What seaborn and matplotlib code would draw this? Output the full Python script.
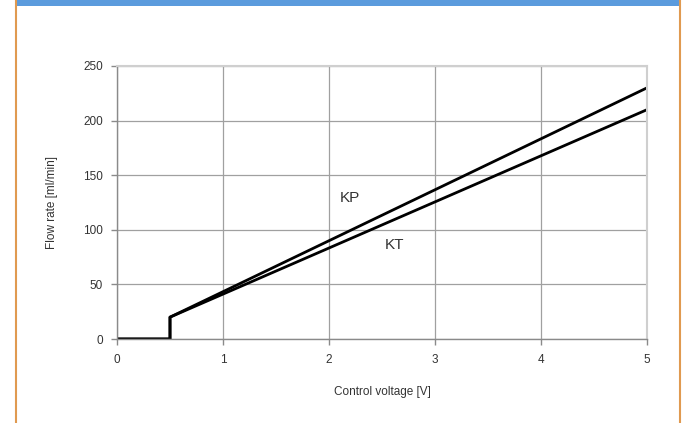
# Flow rate vs control voltage for the KP and KT pumps
import pandas as pd
import matplotlib
matplotlib.use('Agg')
import matplotlib.pyplot as plt
import seaborn as sns
from matplotlib.patches import Rectangle
from matplotlib.lines import Line2D

# data
voltage = [0, 0.5, 0.5, 5]
flow_kp = [0, 0, 20, 230]
flow_kt = [0, 0, 20, 210]
x_ticks = [0, 1, 2, 3, 4, 5]
y_ticks = [0, 50, 100, 150, 200, 250]

df = pd.concat([
    pd.DataFrame({'voltage': voltage, 'flow': flow_kp, 'pump': 'KP'}),
    pd.DataFrame({'voltage': voltage, 'flow': flow_kt, 'pump': 'KT'}),
])

sns.set_style('white')
plt.rcParams['font.family'] = ['Liberation Sans', 'DejaVu Sans']

fig = plt.figure(figsize=(6.83, 4.23), dpi=100)
ax = fig.add_axes([117 / 683, 84 / 423, 530 / 683, 273 / 423])

sns.lineplot(data=df, x='voltage', y='flow', units='pump', estimator=None,
             sort=False, color='black', linewidth=2, ax=ax)

ax.set_xlim(0, 5)
ax.set_ylim(0, 250)
ax.set_xticks(x_ticks)
ax.set_yticks(y_ticks)
ax.grid(True, color='#a0a0a0', linewidth=0.9)
ax.set_axisbelow(True)
for side in ['left', 'bottom']:
    ax.spines[side].set_color('#8a8a8a')
    ax.spines[side].set_linewidth(1)
for side in ['top', 'right']:
    ax.spines[side].set_color('#cfcfcf')
    ax.spines[side].set_linewidth(1.5)
ax.tick_params(axis='both', which='both', length=4, width=1, color='#8a8a8a',
               labelsize=8.5, labelcolor='#333333', direction='out',
               left=True, bottom=True)
ax.tick_params(axis='x', pad=7)
ax.tick_params(axis='y', pad=6)

ax.set_xlabel('Control voltage [V]', fontsize=8.5, color='#333333', labelpad=14)
ax.set_ylabel('Flow rate [ml/min]', fontsize=8.5, color='#333333', labelpad=18)

ax.text(2.2, 129, 'KP', fontsize=11, color='#333333', ha='center', va='center')
ax.text(2.62, 86, 'KT', fontsize=11, color='#333333', ha='center', va='center')

# page frame: blue header strip and orange side borders
fig.add_artist(Rectangle((15 / 683, 1 - 6 / 423), 665 / 683, 6 / 423,
                         transform=fig.transFigure, facecolor='#5b9bdd',
                         edgecolor='none'))
fig.add_artist(Line2D([16 / 683, 16 / 683], [0, 1], transform=fig.transFigure,
                      color='#e09a50', linewidth=1.5))
fig.add_artist(Line2D([680 / 683, 680 / 683], [0, 1], transform=fig.transFigure,
                      color='#e09a50', linewidth=1.5))

fig.savefig('out.png', dpi=100, facecolor='white')
